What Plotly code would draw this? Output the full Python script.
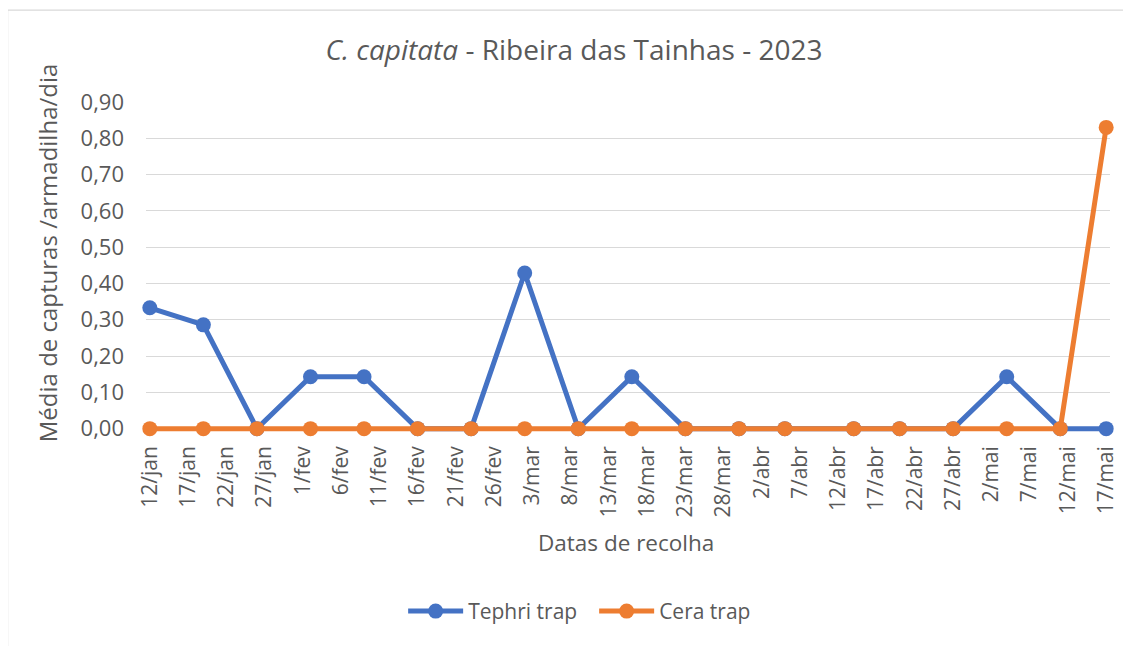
import pandas as pd
import plotly.graph_objects as go

# ---- data ----
collection_dates = ["2023-01-12", "2023-01-19", "2023-01-26", "2023-02-02", "2023-02-09",
                    "2023-02-16", "2023-02-23", "2023-03-02", "2023-03-09", "2023-03-16",
                    "2023-03-23", "2023-03-30", "2023-04-05", "2023-04-14", "2023-04-20",
                    "2023-04-27", "2023-05-04", "2023-05-11", "2023-05-17"]
tephri_trap = [0.333, 0.286, 0.0, 0.143, 0.143, 0.0, 0.0, 0.429, 0.0, 0.143,
               0.0, 0.0, 0.0, 0.0, 0.0, 0.0, 0.143, 0.0, 0.0]
cera_trap = [0.0, 0.0, 0.0, 0.0, 0.0, 0.0, 0.0, 0.0, 0.0, 0.0,
             0.0, 0.0, 0.0, 0.0, 0.0, 0.0, 0.0, 0.0, 0.83]
tick_labels = ["12/jan", "17/jan", "22/jan", "27/jan", "1/fev", "6/fev", "11/fev", "16/fev",
               "21/fev", "26/fev", "3/mar", "8/mar", "13/mar", "18/mar", "23/mar", "28/mar",
               "2/abr", "7/abr", "12/abr", "17/abr", "22/abr", "27/abr", "2/mai", "7/mai",
               "12/mai", "17/mai"]
tick_dates = [d.strftime("%Y-%m-%d") for d in pd.date_range("2023-01-12", periods=len(tick_labels), freq="5D")]
y_ticks = [0.0, 0.1, 0.2, 0.3, 0.4, 0.5, 0.6, 0.7, 0.8, 0.9]

FONT = "Open Sans"
TXT = "#595959"
BLUE = "#4472C4"
ORANGE = "#ED7D31"

fig = go.Figure()
fig.add_trace(go.Scatter(x=collection_dates, y=tephri_trap, name="Tephri trap",
                         mode="lines+markers", cliponaxis=False,
                         line=dict(color=BLUE, width=5),
                         marker=dict(color=BLUE, size=15)))
fig.add_trace(go.Scatter(x=collection_dates, y=cera_trap, name="Cera trap",
                         mode="lines+markers", cliponaxis=False,
                         line=dict(color=ORANGE, width=5),
                         marker=dict(color=ORANGE, size=15)))

# page body has an 8px margin: figure origin sits at (8, 8) on screen
OFF = 8
W, H = 1131 - OFF, 646 - OFF
Y0, Y1 = -0.012, 0.9
ppu = (429 - 102) / 0.9                       # px per y unit
SL, SR, ST = 146, 1114, 102                   # plot area in screen px
SB = 429 + (-Y0) * ppu
L, R, T, B = SL - OFF, SR - OFF, ST - OFF, SB - OFF
pw, ph = R - L, B - T

def px(x):   # screen x -> paper
    return (x - SL) / pw

def py(y):   # screen y -> paper
    return (SB - y) / ph

fig.update_layout(
    width=W, height=H,
    margin=dict(l=L, r=W - R, t=T, b=H - B, pad=0),
    paper_bgcolor="white", plot_bgcolor="white",
    separators=",.",
    font=dict(family=FONT, size=22, color=TXT),
    showlegend=True,
    legend=dict(orientation="h", x=px(596), xanchor="center", y=py(612), yanchor="middle",
                font=dict(size=21, color=TXT), itemwidth=55, entrywidth=121,
                tracegroupgap=0, bgcolor="rgba(0,0,0,0)"),
    title=dict(text="<i>C. capitata</i> - Ribeira das Tainhas - 2023",
               x=(574 - OFF) / W, xanchor="center", xref="container",
               y=1 - (50 - OFF) / H, yanchor="middle", yref="container",
               font=dict(family=FONT, size=28, color=TXT)),
    xaxis=dict(type="date", range=["2023-01-11 12:00", "2023-05-17 12:00"],
               tickmode="array", tickvals=tick_dates, ticktext=tick_labels,
               tickangle=-90, showgrid=False, zeroline=False, showline=False,
               ticks="", tickfont=dict(size=21, color=TXT), ticklabelstandoff=8),
    yaxis=dict(range=[Y0, Y1], tickmode="array", tickvals=y_ticks, tickformat=".2f",
               showgrid=True, gridcolor="#d9d9d9", gridwidth=1.3, zeroline=False,
               showline=False, ticks="", tickfont=dict(size=22, color=TXT),
               ticklabelstandoff=21),
    annotations=[
        dict(text="Datas de recolha", xref="paper", yref="paper", x=px(628), y=py(543),
             xanchor="center", yanchor="middle", showarrow=False,
             font=dict(size=22.5, color=TXT)),
        dict(text="Média de capturas /armadilha/dia", xref="paper", yref="paper",
             x=px(47), y=py(253), xanchor="center", yanchor="middle", showarrow=False,
             textangle=-90, font=dict(size=24, color=TXT)),
    ],
    shapes=[dict(type="rect", xref="paper", yref="paper", x0=px(7), x1=px(1140),
                 y0=py(655), y1=py(10), line=dict(color="#d9d9d9", width=1.3),
                 fillcolor="rgba(0,0,0,0)", layer="below")],
)

fig.write_html("out.html")
